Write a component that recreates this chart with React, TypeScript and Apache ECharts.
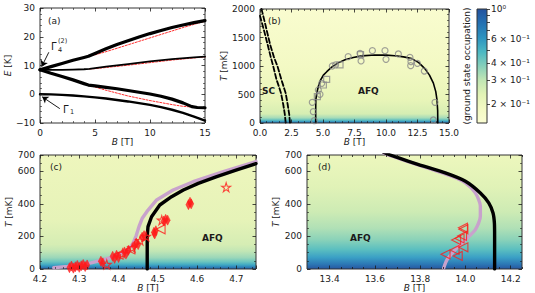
import React, { useEffect, useRef } from "react";
import * as echarts from "echarts";

// ---------------- Panel (a): energy levels, E [K] vs B [T]
const aLevelTop = [[0, 8.5], [1, 9.6], [2, 10.7], [3, 11.8], [4, 12.8], [4.4, 13.2], [5, 14.2], [6, 15.8], [7, 17.3], [8, 18.6], [9, 19.9], [10, 21.1], [11, 22.2], [12, 23.2], [13, 24.1], [14, 24.9], [15, 25.6]];
const aLevelTopCalc = [[4.4, 13.2], [5, 13.7], [6, 14.8], [7, 16], [8, 17.2], [9, 18.4], [10, 19.6], [11, 20.8], [12, 22], [13, 23.2], [14, 24.3], [15, 25.4]];
const aLevelMid = [[0, 8.5], [1, 8.5], [2, 8.5], [3, 8.6], [4, 8.7], [4.5, 8.8], [5, 9.1], [6, 9.6], [8, 10.5], [10, 11.4], [12, 12.2], [14, 12.8], [15, 13.1]];
const aLevelMidCalc = [[4.5, 8.8], [5, 8.9], [8, 10.1], [10, 11.0], [12, 11.9], [15, 13.0]];
const aLevelLow = [[0, 8.5], [1, 7.3], [2, 6.2], [3, 5.0], [4, 3.7], [4.4, 3.2], [5, 2.9], [6, 2.4], [7, 1.9], [8, 1.3], [9, 0.7], [10, 0.1], [11, -0.7], [12, -1.7], [13, -3.0], [13.8, -4.3], [14.3, -4.6], [15, -4.7]];
const aLevelLowCalc = [[4.4, 3.2], [5, 2.5], [6, 1.4], [7, 0.4], [8, -0.6], [9, -1.4], [10, -2.2], [11, -2.9], [12, -3.6], [13, -4.2], [14, -4.5]];
const aLevelGround = [[0, 0], [1, -0.05], [2, -0.2], [3, -0.45], [4, -0.75], [5, -1.1], [6, -1.5], [7, -2.0], [8, -2.5], [9, -3.1], [10, -3.7], [11, -4.5], [12, -5.4], [13, -6.5], [14, -7.8], [15, -9.2]];
const aArrowGamma4 = [[0.8, 14.6], [0.15, 9.6]];
const aArrowGamma1 = [[1.8, -5.0], [0.2, -0.9]];

// ---------------- Panel (b): phase diagram, T [mK] vs B [T]
const bSCLine1 = [[0, 1880], [0.3, 1640], [0.6, 1380], [0.85, 1160], [1.06, 987], [1.3, 770], [1.5, 640], [1.67, 521], [1.85, 320], [1.97, 150], [2.04, 0]];
const bSCLine2 = [[0.12, 2000], [0.4, 1750], [0.8, 1380], [1.1, 1160], [1.4, 987], [1.7, 760], [2.04, 521], [2.2, 320], [2.32, 150], [2.38, 0]];
const bAFQDome = [[4.42, 0], [4.42, 200], [4.43, 400], [4.5, 520], [4.63, 640], [4.8, 750], [5.03, 840], [5.3, 900], [5.69, 980], [6.2, 1055], [6.75, 1110], [7.4, 1150], [8.07, 1178], [9.1, 1192], [10, 1190], [10.7, 1180], [11.4, 1160], [12.04, 1130], [12.6, 1060], [13.1, 950], [13.45, 840], [13.76, 700], [13.95, 550], [14.05, 400], [14.1, 220], [14.11, 0]];
const bCircles = [[4.31, 41], [4.15, 363], [4.23, 199], [4.63, 579], [4.9, 696], [4.76, 503], [5.74, 1000], [6.0, 1018], [7.0, 1164], [7.94, 1222], [8.02, 1088], [8.92, 1269], [9.92, 1269], [10.0, 1117], [10.98, 1211], [11.9, 1152], [11.98, 1076], [11.96, 1006], [12.49, 1047], [13.04, 912], [13.89, 363], [13.76, 53]];
const bSquares = [[4.55, 462], [5.03, 667], [5.29, 766], [6.35, 1018], [7.98, 1200]];

// ---------------- Colour bar (ground state occupation, log scale)
const cbMin = 0.145;
const cbMax = 1;
const cbLabelValues = [0.2, 0.3, 0.4, 0.6, 1];
const cbTickValues = [0.2, 0.3, 0.4, 0.5, 0.6, 0.7, 0.8, 0.9, 1];

// ---------------- Panel (c): low-field boundary
const cPurple = [[4.235, 8], [4.27, 16], [4.3, 26], [4.33, 38], [4.357, 55], [4.39, 78], [4.416, 106], [4.43, 135], [4.437, 158], [4.445, 205], [4.452, 260], [4.46, 310], [4.472, 352], [4.497, 424], [4.539, 485], [4.59, 536], [4.667, 598], [4.75, 660]];
const cBlack = [[4.473, 0], [4.473, 200], [4.475, 260], [4.484, 321], [4.505, 393], [4.535, 444], [4.565, 485], [4.603, 526], [4.65, 567], [4.701, 608], [4.75, 647]];
const cDiamonds = [[4.275, 8], [4.28, 18], [4.285, 5], [4.29, 14], [4.295, 22], [4.3, 10], [4.305, 20], [4.31, 28], [4.315, 15], [4.32, 25], [4.355, 48], [4.36, 38], [4.385, 78], [4.39, 65], [4.395, 85], [4.4, 70], [4.415, 105], [4.42, 95], [4.425, 115], [4.44, 140], [4.445, 160], [4.45, 150], [4.46, 195], [4.465, 205], [4.49, 225], [4.495, 235], [4.492, 215], [4.515, 295], [4.52, 305], [4.525, 300], [4.578, 395], [4.582, 410], [4.585, 400]];
const cStars = [[4.37, 28], [4.41, 95], [4.435, 130], [4.455, 175], [4.47, 200], [4.51, 300], [4.674, 502]];
const cTriangles = [[4.40, 88], [4.43, 120], [4.507, 244]];

// ---------------- Panel (d): high-field boundary
const dPurple = [[13.904, 6], [13.919, 57], [13.955, 119], [14.0, 180], [14.044, 242], [14.066, 324], [14.066, 385], [14.044, 467], [14.0, 529], [13.94, 570], [13.852, 611], [13.764, 652], [13.653, 703], [13.64, 712]];
const dBlack = [[14.129, 0], [14.129, 200], [14.128, 283], [14.122, 344], [14.103, 406], [14.066, 467], [14.0, 539], [13.911, 590], [13.793, 641], [13.705, 682], [13.661, 703], [13.64, 715]];
const dTriangles = [[13.912, 90], [13.952, 117], [13.966, 80], [13.991, 133], [13.959, 178], [13.974, 188], [13.985, 203], [13.991, 244], [13.989, 254]];
const dMajorTicks = [13.4, 13.6, 13.8, 14.0, 14.2];
const dMinorTicks = [13.35, 13.45, 13.5, 13.55, 13.65, 13.7, 13.75, 13.85, 13.9, 13.95, 14.05, 14.1, 14.15, 14.25];

const FONT = "DejaVu Sans";
const INK = "#1a1a1a";
const RED = "#ff1a1a";
const PURPLE = "#c8a2cc";
const STAR = "path://M50,0 L61.17,34.63 L97.55,34.55 L68.07,55.87 L79.39,90.45 L50,69 L20.61,90.45 L31.93,55.87 L2.45,34.55 L38.83,34.63 Z";

function grad(stops: [number, string][]) {
  return new echarts.graphic.LinearGradient(0, 0, 0, 1, stops.map(([offset, color]) => ({ offset, color })));
}

type Spec = { min: number; max: number; interval?: number; minor?: number; fmt?: (v: number) => string; name?: string; gap?: number; major?: number[]; show?: boolean; };

const minus = (v: number) => (v < 0 ? "\u2212" + Math.abs(v) : String(v));
const oneDecimal = (v: number) => (Math.abs(v * 10 - Math.round(v * 10)) > 1e-6 ? "" : v.toFixed(1));

function buildOption() {
  const xAxes: any[] = [];
  const yAxes: any[] = [];
  const nameStyle = { fontSize: 9, color: INK, fontFamily: FONT, rich: { i: { fontStyle: "italic", fontSize: 9, color: INK, fontFamily: FONT } } };

  const mk = (g: number, s: Spec, position: string, primary: boolean, tickLen = 3.5) => {
    const a: any = {
      gridIndex: g, type: "value", position, min: s.min, max: s.max,
      axisLine: { show: false, onZero: false }, splitLine: { show: false },
      axisTick: { show: s.show !== false, inside: true, length: tickLen, lineStyle: { color: INK, width: 0.8 } },
      minorTick: { show: !!s.minor, splitNumber: s.minor || 5, length: 2, lineStyle: { color: INK, width: 0.6 } },
      axisLabel: { show: primary && s.show !== false, fontSize: 9, color: INK, margin: 5, fontFamily: FONT, formatter: s.fmt || ((v: number) => String(v)), hideOverlap: false },
      z: 5,
    };
    if (s.interval != null) a.interval = s.interval;
    if (s.major) { a.axisTick.customValues = s.major; a.axisLabel.customValues = s.major; }
    if (primary && s.name) { a.name = s.name; a.nameLocation = "middle"; a.nameGap = s.gap; a.nameTextStyle = nameStyle; }
    return a;
  };
  const frame = (g: number, xs: Spec, ys: Spec, tickLen = 3.5) => {
    xAxes.push(mk(g, xs, "bottom", true, tickLen));
    const xi = xAxes.length - 1;
    xAxes.push(mk(g, xs, "top", false, tickLen));
    yAxes.push(mk(g, ys, "left", true, tickLen));
    const yi = yAxes.length - 1;
    yAxes.push(mk(g, ys, "right", false, tickLen));
    return [xi, yi];
  };

  const [ax, ay] = frame(0, { min: 0, max: 15, interval: 5, minor: 5, name: "{i|B} [T]", gap: 12 }, { min: -10, max: 30, interval: 10, minor: 5, fmt: minus, name: "{i|E} [K]", gap: 25 });
  const [bx, by] = frame(1, { min: 0, max: 15, interval: 2.5, minor: 5, fmt: (v) => v.toFixed(1), name: "{i|B} [T]", gap: 12 }, { min: 0, max: 2000, interval: 500, minor: 5, name: "{i|T} [mK]", gap: 32 });

  // colour bar
  xAxes.push({ gridIndex: 2, type: "value", min: 0, max: 1, show: false });
  const cbx = xAxes.length - 1;
  yAxes.push({
    gridIndex: 2, type: "value", position: "right", min: Math.log10(cbMin), max: Math.log10(cbMax),
    axisLine: { show: false, onZero: false }, splitLine: { show: false },
    axisTick: { show: true, inside: false, length: 3, lineStyle: { color: INK, width: 0.8 }, customValues: cbTickValues.map((v) => Math.log10(v)) },
    axisLabel: {
      show: true, fontSize: 9, color: INK, fontFamily: FONT, margin: 4, customValues: cbLabelValues.map((v) => Math.log10(v)),
      formatter: (v: number) => { const m = Math.round(Math.pow(10, v) * 10); return m >= 10 ? "10\u2070" : m + " \u00d7 10\u207b\u00b9"; },
    },
  });
  const cby = yAxes.length - 1;

  const [cx, cy] = frame(3, { min: 4.2, max: 4.75, interval: 0.1, minor: 5, fmt: oneDecimal, name: "{i|B} [T]", gap: 12 }, { min: 0, max: 700, interval: 200, minor: 4, name: "{i|T} [mK]", gap: 25 });
  const [dx, dy] = frame(4, { min: 13.3, max: 14.25, major: dMajorTicks, fmt: (v) => v.toFixed(1), name: "{i|B} [T]", gap: 12 }, { min: 0, max: 700, interval: 200, minor: 4, name: "{i|T} [mK]", gap: 25 });
  // minor ticks for (d) x-axis on an overlay grid
  xAxes.push(mk(5, { min: 13.3, max: 14.25, major: dMinorTicks }, "bottom", false, 2));
  xAxes.push(mk(5, { min: 13.3, max: 14.25, major: dMinorTicks }, "top", false, 2));
  yAxes.push({ gridIndex: 5, type: "value", min: 0, max: 700, show: false, axisLine: { onZero: false } });

  const line = (xi: number, yi: number, data: number[][], color: string, width: number, type: any = "solid", extra: any = {}) => ({
    type: "line", xAxisIndex: xi, yAxisIndex: yi, data, showSymbol: false, symbol: "none", silent: true, clip: true, z: 3,
    lineStyle: { color, width, type, cap: "round", join: "round" }, ...extra,
  });
  const scat = (xi: number, yi: number, data: number[][], symbol: string, size: any, itemStyle: any, extra: any = {}) => ({
    type: "scatter", xAxisIndex: xi, yAxisIndex: yi, data, symbol, symbolSize: size, itemStyle, silent: true, z: 4, ...extra,
  });
  const openRed = { color: "rgba(0,0,0,0)", borderColor: RED, borderWidth: 1.1 };

  const series: any[] = [
    // (a)
    line(ax, ay, aLevelTopCalc, RED, 0.9, [2, 1.5]),
    line(ax, ay, aLevelMidCalc, RED, 0.9, [2, 1.5]),
    line(ax, ay, aLevelLowCalc, RED, 0.9, [2, 1.5]),
    line(ax, ay, aLevelTop, "#000", 3.2),
    line(ax, ay, aLevelMid, "#000", 1.8),
    line(ax, ay, aLevelLow, "#000", 3.2),
    line(ax, ay, aLevelGround, "#000", 2.4, "solid", {
      markLine: {
        silent: true, symbol: ["none", "arrow"], symbolSize: 6, label: { show: false },
        lineStyle: { color: "#000", width: 0.9, type: "solid" },
        data: [
          [{ coord: aArrowGamma4[0] }, { coord: aArrowGamma4[1] }],
          [{ coord: aArrowGamma1[0] }, { coord: aArrowGamma1[1] }],
        ],
      },
    }),
    // (b)
    line(bx, by, bSCLine1, "#000", 1.8, [5, 2.5]),
    line(bx, by, bSCLine2, "#000", 1.8, [5, 2.5]),
    line(bx, by, bAFQDome, "#000", 1.6),
    scat(bx, by, bCircles, "circle", 6, { color: "rgba(0,0,0,0)", borderColor: "#8a8a8a", borderWidth: 1.2 }),
    scat(bx, by, bSquares, "rect", 6, { color: "rgba(0,0,0,0)", borderColor: "#8a8a8a", borderWidth: 1.2 }),
    // (c)
    line(cx, cy, cPurple, PURPLE, 3.4),
    line(cx, cy, cBlack, "#000", 3.4),
    scat(cx, cy, cDiamonds, "diamond", [5, 10], { color: RED, borderColor: RED, borderWidth: 0.6 }),
    scat(cx, cy, cStars, STAR, 9, openRed),
    scat(cx, cy, cTriangles, "triangle", 9, openRed, { symbolRotate: 90 }),
    // (d)
    line(dx, dy, dPurple, PURPLE, 3.4, "solid", { smooth: 0.25 }),
    line(dx, dy, dBlack, "#000", 3.4, "solid", { smooth: 0.2 }),
    scat(dx, dy, dTriangles, "triangle", 9, openRed, { symbolRotate: 90 }),
    // empty series for colour bar grid
    { type: "line", xAxisIndex: cbx, yAxisIndex: cby, data: [], silent: true },
  ];

  const bBg = grad([[0, "#f9fccf"], [0.5, "#f3f9c4"], [0.8, "#e8f5b8"], [0.92, "#d6eeb3"], [0.955, "#a5dbb8"], [0.975, "#5fbfc0"], [0.99, "#2f8fbf"], [1, "#2a62a8"]]);
  const cBg = grad([[0, "#eef6bd"], [0.571, "#e6f3b8"], [0.786, "#d5edb4"], [0.843, "#c2e6b5"], [0.9, "#9bd7b9"], [0.936, "#6cc5be"], [0.964, "#3fa8c3"], [0.986, "#2b7cb6"], [1, "#285fa6"]]);
  const dBg = grad([[0, "#edf7bd"], [0.286, "#e0f2b7"], [0.5, "#cdebb4"], [0.643, "#b0e0b6"], [0.743, "#8ad2b9"], [0.829, "#5bbfc0"], [0.9, "#3a9fc5"], [0.957, "#2c78b5"], [1, "#2656a0"]]);
  const cbBg = grad([[0, "#23529e"], [0.12, "#2470b2"], [0.25, "#2c93c0"], [0.38, "#4db9c3"], [0.5, "#86cfba"], [0.62, "#bfe5b4"], [0.75, "#e2f3b6"], [0.88, "#f4fac4"], [1, "#fbfdd3"]]);

  const frameGrid = (left: number, top: number, width: number, height: number, bg: any) => ({ left, top, width, height, show: true, backgroundColor: bg, borderColor: "#333", borderWidth: 1, containLabel: false, outerBoundsMode: "none" });

  const t = (x: number, y: number, text: string, extra: any = {}, el: any = {}) => ({
    type: "text", x, y, z: 100, silent: true, ...el,
    style: { text, fontFamily: FONT, fontSize: 9, fill: INK, align: "left", verticalAlign: "middle", ...extra },
  });

  return {
    animation: false,
    textStyle: { fontFamily: FONT },
    grid: [
      frameGrid(40, 8, 165, 115, "#ffffff"),
      frameGrid(260, 9, 189, 114, bBg),
      frameGrid(477, 9, 10, 114, cbBg),
      frameGrid(40, 155, 216, 114, cBg),
      frameGrid(307, 155, 215, 114, dBg),
      { left: 307, top: 155, width: 215, height: 114, show: false, containLabel: false, outerBoundsMode: "none" },
    ],
    xAxis: xAxes,
    yAxis: yAxes,
    series,
    graphic: [
      t(48, 21, "(a)"),
      t(51, 46, "\u0393", { fontSize: 10 }),
      t(58, 50, "4", { fontSize: 6.5 }),
      t(58, 41, "(2)", { fontSize: 6.5 }),
      t(63, 109, "\u0393", { fontSize: 10 }),
      t(70, 112, "1", { fontSize: 6.5 }),
      t(268, 21, "(b)"),
      t(262, 91, "SC", { fontWeight: "bold" }),
      t(358, 91, "AFQ", { fontWeight: "bold" }),
      t(50, 167, "(c)"),
      t(202, 238, "AFQ", { fontWeight: "bold" }),
      t(318, 167, "(d)"),
      t(350, 238, "AFQ", { fontWeight: "bold" }),
      t(467, 66, "(ground state occupation)", { align: "center" }, { rotation: Math.PI / 2 }),
    ],
  };
}

export default function App() {
  const ref = useRef<HTMLDivElement>(null);
  useEffect(() => {
    if (!ref.current) return;
    const chart = echarts.init(ref.current, undefined, { renderer: "svg" });
    chart.setOption(buildOption() as any);
    return () => chart.dispose();
  }, []);
  return <div ref={ref} style={{ position: "absolute", left: 0, top: 0, width: 535, height: 293 }} />;
}
